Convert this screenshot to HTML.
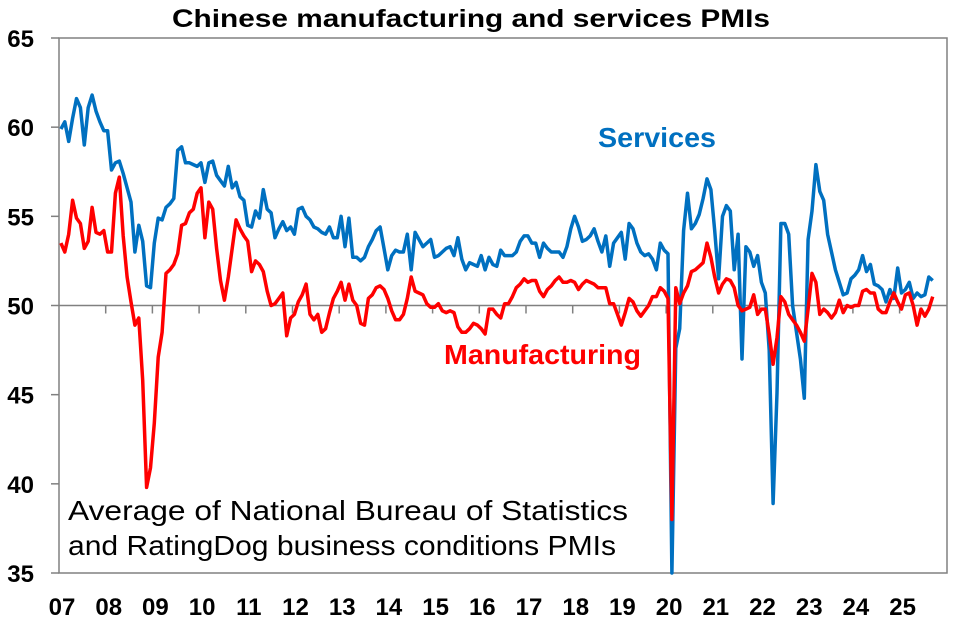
<!DOCTYPE html>
<html><head><meta charset="utf-8"><style>
body{margin:0;background:#fff;}
svg{display:block;font-family:"Liberation Sans",Arial,sans-serif;}
</style></head><body>
<svg id="chart" width="953" height="626" viewBox="0 0 953 626">
<text x="172" y="27" font-size="25" font-weight="bold" textLength="598" lengthAdjust="spacingAndGlyphs" fill="#000">Chinese manufacturing and services PMIs</text>
<g id="axes"></g>
<g id="series"></g>
<text x="598" y="147" font-size="28" font-weight="bold" textLength="118" lengthAdjust="spacingAndGlyphs" fill="#0070C0">Services</text>
<text x="444" y="364" font-size="28" font-weight="bold" textLength="197" lengthAdjust="spacingAndGlyphs" fill="#FF0000">Manufacturing</text>
<text x="68" y="520" font-size="28" textLength="560" lengthAdjust="spacingAndGlyphs" fill="#000">Average of National Bureau of Statistics</text>
<text x="68" y="555" font-size="28" textLength="548" lengthAdjust="spacingAndGlyphs" fill="#000">and RatingDog business conditions PMIs</text>
</svg>
<script>
const yTicks=[35,40,45,50,55,60,65];
const xYears=["07","08","09","10","11","12","13","14","15","16","17","18","19","20","21","22","23","24","25"];
const services=[59.9,60.3,59.2,60.5,61.6,61.1,59.0,61.1,61.8,60.9,60.3,59.8,59.8,57.6,58.0,58.1,57.4,56.6,55.8,53.0,54.5,53.6,51.1,51.0,
53.5,54.9,54.8,55.5,55.7,56.0,58.7,58.9,58.0,58.0,57.9,57.8,58.0,56.9,58.0,58.1,57.3,57.0,56.7,57.8,56.6,56.9,56.1,55.9,
54.5,54.4,55.3,54.9,56.5,55.4,55.2,53.8,54.3,54.7,54.2,54.4,54.0,55.4,55.5,55.0,54.8,54.4,54.3,54.1,54.0,54.4,53.8,53.8,
55.0,53.3,54.9,52.7,52.7,52.5,52.7,53.3,53.7,54.2,54.4,53.2,52.0,52.8,53.1,53.0,53.0,54.0,52.0,54.1,53.7,53.3,53.5,53.7,
52.7,52.8,53.0,53.2,53.3,52.8,53.8,52.6,52.0,52.4,52.3,52.2,52.8,52.0,52.7,52.3,52.2,53.1,52.8,52.8,52.8,53.0,53.6,53.9,
53.9,53.5,53.5,52.7,53.5,53.2,53.0,53.0,53.0,52.7,53.3,54.3,55.0,54.4,53.6,53.7,53.9,54.3,53.6,53.0,53.9,52.2,53.5,53.8,
54.1,52.6,54.6,54.3,53.5,53.0,52.8,52.9,52.6,52.0,53.5,53.1,52.9,35.0,47.6,48.7,54.2,56.3,54.3,54.6,55.1,56.0,57.1,56.5,
54.2,51.5,55.0,55.6,55.3,52.0,54.0,47.0,53.3,53.0,52.2,52.8,51.3,50.7,47.5,38.9,45.1,54.6,54.6,54.0,50.0,48.5,47.0,44.8,
53.7,55.3,57.9,56.4,55.9,54.0,53.0,52.0,51.3,50.6,50.7,51.5,51.7,52.0,52.8,51.9,52.3,51.2,51.1,50.9,50.2,50.9,50.4,52.1,
50.7,50.9,51.3,50.4,50.7,50.5,50.6,51.6,51.4];
const manufacturing=[53.5,53.0,54.0,55.9,54.9,54.6,53.2,53.6,55.5,54.1,54.0,54.2,53.0,53.0,56.3,57.2,53.9,51.6,50.2,48.9,49.3,45.8,39.8,40.9,
43.4,47.1,48.5,51.8,52.0,52.3,52.9,54.5,54.6,55.2,55.4,56.3,56.6,53.8,55.8,55.4,53.2,51.4,50.3,51.6,53.2,54.8,54.3,53.9,
53.6,51.9,52.5,52.3,51.9,50.8,50.0,50.1,50.4,50.7,48.3,49.3,49.5,50.2,50.6,51.2,49.5,49.2,49.5,48.5,48.7,49.6,50.4,50.8,
51.3,50.3,51.2,50.3,50.0,49.0,48.9,50.4,50.6,51.0,51.1,50.9,50.4,49.7,49.2,49.2,49.5,50.4,51.6,50.8,50.7,50.6,50.1,49.9,
49.9,50.1,49.7,49.6,49.7,49.6,48.8,48.5,48.5,48.7,49.0,48.9,48.7,48.4,49.8,49.8,49.5,49.3,50.1,50.1,50.5,51.0,51.2,51.5,
51.3,51.4,51.4,50.8,50.5,50.9,51.1,51.4,51.6,51.3,51.3,51.4,51.3,50.9,51.2,51.4,51.3,51.2,51.0,51.0,51.0,50.1,50.1,49.5,
48.9,49.6,50.4,50.2,49.7,49.4,49.7,50.0,50.5,50.5,51.0,50.8,50.4,38.0,51.0,50.1,50.7,51.1,51.9,52.0,52.2,52.4,53.5,52.7,
51.6,50.7,51.2,51.5,51.4,51.0,50.0,49.7,49.8,49.9,50.6,49.5,49.8,49.8,48.4,46.7,48.2,50.5,50.2,49.5,49.2,48.9,48.5,48.0,
49.8,51.8,51.3,49.5,49.8,49.6,49.3,49.6,50.3,49.6,50.0,49.9,50.0,50.0,50.8,50.9,50.7,50.7,49.8,49.6,49.6,50.2,50.7,50.2,
49.8,50.6,50.7,50.0,48.9,49.8,49.4,49.8,50.5];

const NS="http://www.w3.org/2000/svg";
const L=59,R=947,T=38,B=573,yMin=35,yMax=65,yearW=46.7;
const yS=v=>B-(v-yMin)/(yMax-yMin)*(B-T);
const xS=i=>L+(i+0.5)*yearW/12;
function mk(tag,attrs,parent){const e=document.createElementNS(NS,tag);for(const k in attrs)e.setAttribute(k,attrs[k]);parent.appendChild(e);return e;}
const ax=document.getElementById('axes');
const frame=mk('rect',{x:L,y:T,width:R-L,height:B-T,fill:'none',stroke:'#808080','stroke-width':1.5},ax);


yTicks.forEach(v=>{
  const t=mk('line',{x1:L-8,x2:L,y1:yS(v),y2:yS(v),stroke:'#808080','stroke-width':1.5},ax);
  
  
  const lb=mk('text',{x:34,y:yS(v)+9,'font-size':24,'font-weight':'bold','text-anchor':'end',fill:'#000'},ax);
  lb.textContent=v;
  
  
});
const base=mk('line',{x1:L,x2:R,y1:yS(50),y2:yS(50),stroke:'#808080','stroke-width':1.5},ax);


xYears.forEach((y,k)=>{
  const x=L+k*yearW;
  if(k>0){const t=mk('line',{x1:x,x2:x,y1:yS(50),y2:yS(50)+8,stroke:'#808080','stroke-width':1.5},ax);
  
  }
  const lb=mk('text',{x:x+3,y:615,'font-size':24,'font-weight':'bold','text-anchor':'middle',fill:'#000'},ax);
  lb.textContent=y;
  
  
});
const sg=document.getElementById('series');
function line(data,color,name){
  const d=data.map((v,i)=>(i?'L':'M')+xS(i).toFixed(1)+','+yS(v).toFixed(1)).join('');
  const p=mk('path',{d:d,fill:'none',stroke:color,'stroke-width':3.5,'stroke-linejoin':'round'},sg);
  
  
}
line(services,'#0070C0','services-line');
line(manufacturing,'#FF0000','manufacturing-line');
</script>
</body></html>
